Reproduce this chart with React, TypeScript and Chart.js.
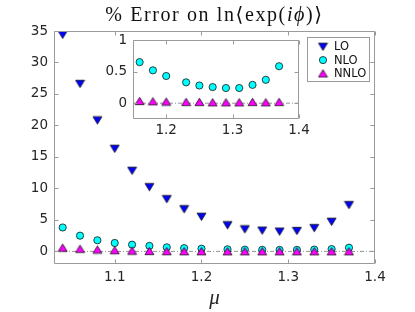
import React, { useEffect, useRef } from 'react';
import { Chart, registerables } from 'chart.js';
Chart.register(...registerables);

// ---- data ----
const MU = [1.04, 1.06, 1.08, 1.1, 1.12, 1.14, 1.16, 1.18, 1.2, 1.23, 1.25, 1.27, 1.29, 1.31, 1.33, 1.35, 1.37];
const LO = [34.4, 26.6, 20.8, 16.3, 12.8, 10.2, 8.3, 6.7, 5.5, 4.15, 3.5, 3.3, 3.15, 3.25, 3.7, 4.7, 7.35];
const NLO = [3.8, 2.5, 1.77, 1.34, 1.07, 0.87, 0.65, 0.52, 0.43, 0.33, 0.28, 0.255, 0.24, 0.24, 0.29, 0.37, 0.585];
const NNLO = [0.6, 0.42, 0.3, 0.2, 0.12, 0.07, 0.035, 0.03, 0.025, 0.02, 0.02, 0.015, 0.015, 0.015, 0.02, 0.015, 0.02];

const INSET_FROM_MU = 1.15;

const X_RANGE = [1.03, 1.4];
const Y_RANGE = [-2, 35];
const X_TICKS = [1.1, 1.2, 1.3, 1.4];
const Y_TICKS = [0, 5, 10, 15, 20, 25, 30, 35];

const IX_RANGE = [1.15, 1.4];
const IY_RANGE = [-0.25, 1];
const IX_TICKS = [1.2, 1.3, 1.4];
const IY_TICKS = [0, 0.5, 1];

const SERIES_NAMES = ['LO', 'NLO', 'NNLO'];

// ---- styles ----
const TICK_FONT = { family: 'DejaVu Sans', size: 13.5 };
const TEXT_COLOR = '#262626';
const AXIS_COLOR = '#9a9a9a';
const BLUE = '#0000ff';
const CYAN = '#00ffff';
const MAGENTA = '#ff00ff';
const EDGE = '#141414';

function makeTriangle(fill: string, down: boolean): HTMLCanvasElement {
  const c = document.createElement('canvas');
  c.width = 11;
  c.height = 10;
  const g = c.getContext('2d')!;
  g.beginPath();
  if (down) {
    g.moveTo(1, 1.3);
    g.lineTo(10, 1.3);
    g.lineTo(5.5, 8.7);
  } else {
    g.moveTo(5.5, 1.3);
    g.lineTo(10, 8.7);
    g.lineTo(1, 8.7);
  }
  g.closePath();
  g.fillStyle = fill;
  g.fill();
  g.lineWidth = 0.8;
  g.strokeStyle = EDGE;
  g.stroke();
  return c;
}

const boxPlugin = {
  id: 'matlabBox',
  beforeDraw(chart: any) {
    const { ctx, chartArea: a } = chart;
    ctx.save();
    ctx.fillStyle = '#ffffff';
    ctx.fillRect(a.left, a.top, a.right - a.left, a.bottom - a.top);
    ctx.restore();
  },
  afterDraw(chart: any) {
    const { ctx, chartArea: a, scales } = chart;
    const L = Math.round(a.left) + 0.5;
    const R = Math.round(a.right) - 0.5;
    const T = Math.round(a.top) + 0.5;
    const B = Math.round(a.bottom) - 0.5;
    ctx.save();
    ctx.strokeStyle = AXIS_COLOR;
    ctx.lineWidth = 1;
    ctx.beginPath();
    ctx.rect(L, T, R - L, B - T);
    const tl = 4;
    scales.x.ticks.forEach((t: any) => {
      const px = Math.round(scales.x.getPixelForValue(t.value)) + 0.5;
      ctx.moveTo(px, B);
      ctx.lineTo(px, B - tl);
      ctx.moveTo(px, T);
      ctx.lineTo(px, T + tl);
    });
    scales.y.ticks.forEach((t: any) => {
      const py = Math.round(scales.y.getPixelForValue(t.value)) + 0.5;
      ctx.moveTo(L, py);
      ctx.lineTo(L + tl, py);
      ctx.moveTo(R, py);
      ctx.lineTo(R - tl, py);
    });
    ctx.stroke();
    ctx.restore();
  },
};

function makeLegendPlugin(markers: { img?: HTMLCanvasElement; circle?: string }[]) {
  return {
    id: 'boxLegend',
    afterDraw(chart: any) {
      const { ctx, chartArea: a } = chart;
      const w = 62;
      const h = 44;
      const x0 = Math.round(a.right - 6 - w) + 0.5;
      const y0 = Math.round(a.top + 6) + 0.5;
      ctx.save();
      ctx.fillStyle = '#ffffff';
      ctx.fillRect(x0, y0, w, h);
      ctx.strokeStyle = AXIS_COLOR;
      ctx.lineWidth = 1;
      ctx.strokeRect(x0, y0, w, h);
      ctx.font = '11.5px "DejaVu Sans"';
      ctx.textBaseline = 'middle';
      ctx.fillStyle = '#111111';
      SERIES_NAMES.forEach((name, i) => {
        const cy = y0 + 9.3 + i * 13.3;
        const cx = x0 + 15.5;
        const m = markers[i];
        if (m.img) {
          ctx.drawImage(m.img, cx - m.img.width / 2, cy - m.img.height / 2);
        } else if (m.circle) {
          ctx.beginPath();
          ctx.arc(cx, cy, 3.6, 0, Math.PI * 2);
          ctx.fillStyle = m.circle;
          ctx.fill();
          ctx.lineWidth = 0.8;
          ctx.strokeStyle = EDGE;
          ctx.stroke();
        }
        ctx.fillStyle = '#111111';
        ctx.fillText(name, x0 + 26.5, cy + 0.5);
      });
      ctx.restore();
    },
  };
}

function pts(xs: number[], ys: number[], from = -Infinity) {
  const out: { x: number; y: number }[] = [];
  xs.forEach((x, i) => {
    if (x >= from) out.push({ x, y: ys[i] });
  });
  return out;
}

function baseScales(
  xr: number[], yr: number[], xt: number[], yt: number[],
  xH: number, yW: number, xPad: number, yPad: number, xTitle?: string
) {
  const fmt = (v: any) => String(v);
  return {
    x: {
      type: 'linear',
      min: xr[0],
      max: xr[1],
      afterBuildTicks: (s: any) => { s.ticks = xt.map((v) => ({ value: v })); },
      afterFit: (s: any) => { s.height = xH; },
      grid: { display: false, drawTicks: false },
      border: { display: false },
      ticks: { padding: xPad, font: TICK_FONT, color: TEXT_COLOR, callback: fmt, maxRotation: 0, autoSkip: false },
      title: xTitle
        ? { display: true, text: xTitle, color: TEXT_COLOR, font: { family: 'Liberation Serif', size: 21, style: 'italic' }, padding: { top: 0, bottom: 1 } }
        : { display: false },
    },
    y: {
      type: 'linear',
      min: yr[0],
      max: yr[1],
      afterBuildTicks: (s: any) => { s.ticks = yt.map((v) => ({ value: v })); },
      afterFit: (s: any) => { s.width = yW; },
      grid: { display: false, drawTicks: false },
      border: { display: false },
      ticks: { padding: yPad, font: TICK_FONT, color: TEXT_COLOR, callback: fmt, autoSkip: false },
    },
  };
}

function datasets(from: number, xr: number[], tri: { down: HTMLCanvasElement; up: HTMLCanvasElement }, withLO: boolean) {
  const ds: any[] = [
    {
      data: pts(MU, NNLO, from),
      pointStyle: tri.up,
      pointRadius: 5,
      order: 1,
    },
    {
      data: pts(MU, NLO, from),
      pointStyle: 'circle',
      pointRadius: 3.6,
      backgroundColor: CYAN,
      borderColor: EDGE,
      borderWidth: 0.8,
      order: 2,
    },
    {
      data: [{ x: xr[0], y: 0 }, { x: xr[1], y: 0 }],
      showLine: true,
      pointRadius: 0,
      borderColor: '#7a7a7a',
      borderWidth: 0.8,
      borderDash: [4, 2, 1, 2],
      order: 4,
    },
  ];
  if (withLO) {
    ds.push({
      data: pts(MU, LO, from),
      pointStyle: tri.down,
      pointRadius: 5,
      order: 3,
    });
  }
  return ds;
}

export default function App() {
  const mainRef = useRef<HTMLCanvasElement>(null);
  const insetRef = useRef<HTMLCanvasElement>(null);

  useEffect(() => {
    const tri = { down: makeTriangle(BLUE, true), up: makeTriangle(MAGENTA, false) };
    const main = new Chart(mainRef.current!, {
      type: 'scatter',
      data: { datasets: datasets(-Infinity, X_RANGE, tri, true) },
      options: {
        responsive: false,
        animation: false,
        events: [],
        layout: { padding: { left: 0, right: 40, top: 31, bottom: 0 } },
        plugins: { legend: { display: false }, tooltip: { enabled: false }, title: { display: false } },
        scales: baseScales(X_RANGE, Y_RANGE, X_TICKS, Y_TICKS, 48, 54, 5, 6, 'μ') as any,
      },
      plugins: [boxPlugin, makeLegendPlugin([{ img: tri.down }, { circle: CYAN }, { img: tri.up }])],
    });
    const inset = new Chart(insetRef.current!, {
      type: 'scatter',
      data: { datasets: datasets(INSET_FROM_MU, IX_RANGE, tri, false) },
      options: {
        responsive: false,
        animation: false,
        events: [],
        layout: { padding: { left: 0, right: 116, top: 40, bottom: 0 } },
        plugins: { legend: { display: false }, tooltip: { enabled: false }, title: { display: false } },
        scales: baseScales(IX_RANGE, IY_RANGE, IX_TICKS, IY_TICKS, 193, 133, 3.5, 6) as any,
      },
      plugins: [boxPlugin],
    });
    return () => {
      main.destroy();
      inset.destroy();
    };
  }, []);

  return (
    <div style={{ position: 'fixed', left: 0, top: 0, width: 415, height: 312, background: '#fff' }}>
      <canvas ref={mainRef} width={415} height={312} style={{ position: 'absolute', left: 0, top: 0 }} />
      <canvas ref={insetRef} width={415} height={312} style={{ position: 'absolute', left: 0, top: 0, pointerEvents: 'none' }} />
      <div
        style={{
          position: 'absolute',
          left: 54,
          width: 321,
          top: 1,
          height: 26,
          lineHeight: '26px',
          textAlign: 'center',
          fontFamily: '"Liberation Serif", "DejaVu Serif", serif',
          fontSize: 20,
          letterSpacing: '1.6px',
          color: '#111',
          whiteSpace: 'nowrap',
        }}
      >
        % Error on ln⟨exp(<i>i</i><i>ϕ</i>)⟩
      </div>
    </div>
  );
}
